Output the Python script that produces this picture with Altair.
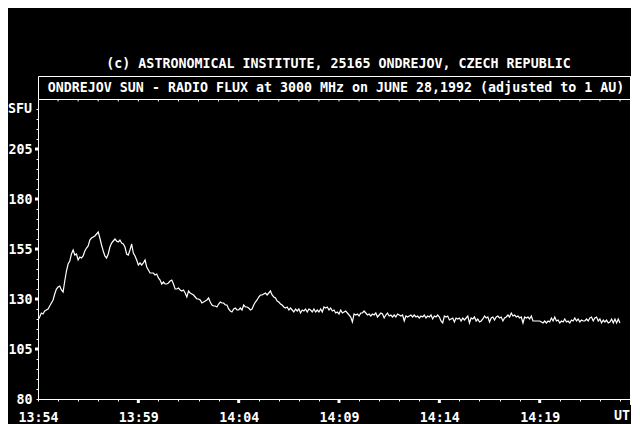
import altair as alt
import pandas as pd

# ---------------- data (SFU, one sample every 5 s starting 13:54:00) ----------------
SAMPLE_SECONDS = 5

flux_1354 = [119.5, 121, 123, 122.5, 124, 124.5, 125, 126.5, 128, 129.5, 132.5, 135, 136, 136.5, 134.5,
             133.5, 139, 144, 147.5, 149, 152.5, 154.5, 152, 152.5, 149.5, 151, 150.5, 151.5, 154, 155.5,
             156.5, 159.5, 160.5, 161, 161.5, 162.5, 163.5, 160.5, 157, 154, 151.5, 150.5, 152.5, 156, 158,
             159, 160, 159, 158.5, 159.5, 158, 157.5, 156, 152.5, 152, 154.5, 157.5, 153, 151.5, 149.5]
flux_1359 = [147, 148, 147, 148, 149.5, 146, 144.5, 143, 143, 143, 142, 142.5, 140.5, 139.5, 137.5,
             138.5, 137.5, 137.5, 138, 139, 139.5, 137.5, 135, 135, 135.5, 134.5, 134, 134.5, 133, 131,
             134, 133, 132.5, 132, 131, 130, 130, 129.5, 128, 128.5, 129, 129.5, 130.5, 128.5, 127,
             126.5, 126.5, 126, 127.5, 128.5, 128, 128, 127, 127, 125, 124, 123.5, 125, 125.5, 124.5]
flux_1404 = [124.5, 125.5, 124.5, 127, 126, 126, 125.5, 124.5, 125, 127, 128.5, 129.5, 131, 132, 132,
             132.5, 133, 132, 133, 134, 132, 131, 130.5, 129, 128.5, 127.5, 127, 126, 125.5, 126,
             124.5, 125.5, 124.5, 123.5, 125, 124, 125, 123, 124.5, 124, 125, 123.5, 125, 124.5, 123.5,
             125, 123.5, 124.5, 123.5, 125, 123.5, 126, 125.5, 126, 124.5, 125.5, 124, 124.5, 123, 123.5]
flux_1409 = [122.5, 124.5, 123, 123.5, 124, 123, 122, 121, 118.5, 122.5, 122, 122.5, 121.5, 123, 123,
             124, 123, 122, 122.5, 121.5, 122.5, 122, 123, 121, 122, 123, 122.5, 120.5, 122, 123,
             121.5, 122, 121, 122, 121, 122.5, 122, 121.5, 122, 119, 121.5, 121, 121.5, 122, 121,
             122, 121, 121.5, 120.5, 121.5, 121, 122, 120.5, 121.5, 121, 122, 120, 121.5, 121, 122]
flux_1414 = [121, 119, 118, 121.5, 121, 121.5, 119.5, 120, 120.5, 118.5, 120.5, 120, 120.5, 119, 120.5,
             119.5, 120.5, 121.5, 118, 120.5, 120, 121, 119, 120, 118.5, 119, 120, 121.5, 120.5, 121,
             118.5, 120.5, 121, 119.5, 121, 121.5, 120.5, 121, 119, 120.5, 121, 122, 121, 123, 121.5,
             122, 121, 121.5, 120.5, 121, 118, 121, 120.5, 121, 120, 121.5, 119, 119, 119, 119]
flux_1419 = [119, 118.5, 118, 119, 118, 119, 118.5, 120.5, 119, 121, 119, 119.5, 118, 119, 118.5,
             120, 118.5, 119, 118, 119.5, 119, 120.5, 119, 120, 118.5, 119.5, 119, 119, 120, 119,
             120.5, 121, 119, 120.5, 121, 119, 120, 118, 119.5, 118.5, 119.5, 118, 118.5, 120, 118,
             120, 118, 120, 118]

TIME_LABELS = ["13:54", "13:59", "14:04", "14:09", "14:14", "14:19"]
Y_LABELS = [80, 105, 130, 155, 180, 205]
COPYRIGHT = "(c) ASTRONOMICAL INSTITUTE, 25165 ONDREJOV, CZECH REPUBLIC"
TITLE = "ONDREJOV SUN - RADIO FLUX at 3000 MHz on JUNE 28,1992 (adjusted to 1 AU)"
Y_UNIT = "SFU"
X_UNIT = "UT"

flux = flux_1354 + flux_1359 + flux_1404 + flux_1409 + flux_1414 + flux_1419
df = pd.DataFrame({
    "minutes": [i * SAMPLE_SECONDS / 60 for i in range(len(flux))],
    "sfu": flux,
})

# ---------------- layout / style ----------------
W, H = 593, 300
X_END = 29.55
FONT = "DejaVu Sans Mono"
FS = 13.3
WHITE = "#ffffff"

minute_ticks = list(range(0, 30))
major_minutes = [5 * i for i in range(1, len(TIME_LABELS))]
sfu_ticks = list(range(80, 230, 5))

x_label_arr = "[" + ",".join(f"'{s}'" for s in TIME_LABELS) + "]"
y_label_arr = "[" + ",".join(str(v) for v in Y_LABELS) + "]"

X_AXIS = alt.Axis(
    values=minute_ticks, tickSize=2, tickColor=WHITE, tickWidth=1,
    domainColor=WHITE, domainWidth=1, grid=False, title=None,
    labelExpr=f"datum.value % 5 == 0 ? {x_label_arr}[datum.value / 5] : ''",
    labelFont=FONT, labelFontSize=FS, labelFontWeight="bold", labelColor=WHITE,
    labelPadding=9, labelFlush=False, labelOverlap=False, labelBound=False,
)
Y_AXIS = alt.Axis(
    values=sfu_ticks, tickSize=2, tickColor=WHITE, tickWidth=1,
    domainColor=WHITE, domainWidth=1, grid=False, title=None,
    labelExpr=f"indexof({y_label_arr}, datum.value) >= 0 ? datum.label : ''",
    labelFont=FONT, labelFontSize=FS, labelFontWeight="bold", labelColor=WHITE,
    labelPadding=4, labelOverlap=False, labelBound=False, labelFlush=False,
)
X_ENC = alt.X("minutes:Q", scale=alt.Scale(domain=[0, X_END], nice=False, zero=False), axis=X_AXIS)
Y_ENC = alt.Y("sfu:Q", scale=alt.Scale(domain=[80, 230], nice=False, zero=False), axis=Y_AXIS)

line = alt.Chart(df).mark_line(color=WHITE, strokeWidth=1.2, clip=True).encode(x=X_ENC, y=Y_ENC)

x_major = alt.Chart(pd.DataFrame({"minutes": major_minutes})).mark_rule(
    color=WHITE, strokeWidth=3).encode(x=X_ENC, y=alt.value(H), y2=alt.value(H + 4))
top_ticks = alt.Chart(pd.DataFrame({"minutes": minute_ticks[1:]})).mark_rule(
    color=WHITE, strokeWidth=1).encode(x=X_ENC, y=alt.value(0), y2=alt.value(2.5))
y_major = alt.Chart(pd.DataFrame({"sfu": Y_LABELS[1:]})).mark_rule(
    color=WHITE, strokeWidth=3).encode(y=Y_ENC, x=alt.value(-3), x2=alt.value(0))

one = pd.DataFrame({"k": [0]})
box = alt.Chart(one).mark_rect(fill="black", stroke=WHITE, strokeWidth=1).encode(
    x=alt.value(0.5), x2=alt.value(W - 0.5), y=alt.value(-22.5), y2=alt.value(0.5))
right_edge = alt.Chart(one).mark_rule(color=WHITE, strokeWidth=1).encode(
    x=alt.value(W - 0.5), y=alt.value(-22.5), y2=alt.value(H + 6))


def label(txt, x, y, align="center"):
    return alt.Chart(pd.DataFrame({"t": [txt]})).mark_text(
        font=FONT, fontSize=FS, fontWeight="bold", color=WHITE, align=align, baseline="middle"
    ).encode(text="t:N", x=alt.value(x), y=alt.value(y))


chart = alt.layer(
    box, right_edge, top_ticks, x_major, y_major, line,
    label(COPYRIGHT, 300.5, -35),
    label(TITLE, 298, -11),
    label(Y_UNIT, -6, 9.5, "right"),
    label(X_UNIT, W - 1, 317, "right"),
).properties(
    width=W, height=H,
    padding={"left": 30, "top": 91, "right": 0, "bottom": 25},
    autosize=alt.AutoSizeParams(type="none"),
    background="black",
).configure_view(stroke=None, fill="black")

chart.save("out.html", embed_options={"renderer": "svg", "actions": False})
